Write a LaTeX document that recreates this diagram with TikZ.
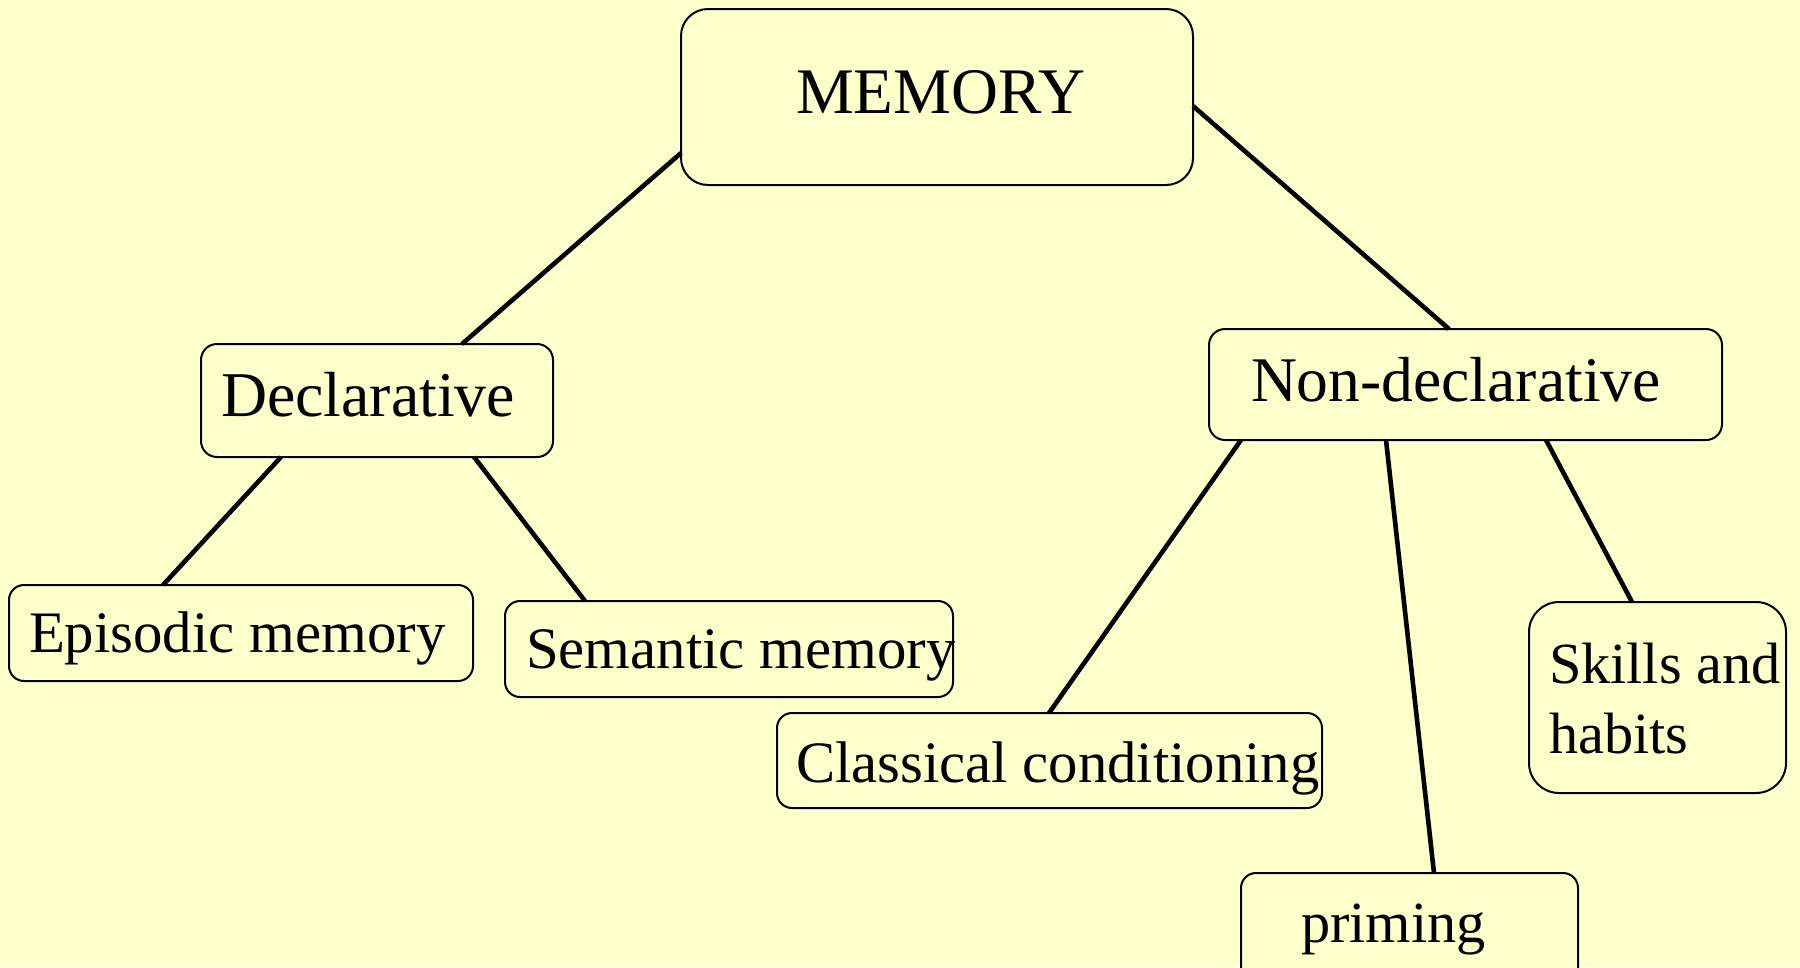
\documentclass[tikz,border=0pt]{standalone}
\usepackage{fontspec}
\setmainfont{Liberation Serif}
\definecolor{paper}{HTML}{FFFFCC}
\tikzset{
  box/.style={draw=black, fill=paper, line width=2pt, rounded corners=#1,
              inner sep=0pt, outer sep=0pt},
  box/.default=16pt,
  label text/.style={inner sep=0pt, outer sep=0pt, anchor=base west, text=black},
  link/.style={draw=black, line width=4.6pt}
}
\newcommand{\fs}[1]{\fontsize{#1}{1.2\dimexpr#1pt\relax}\selectfont}
\begin{document}
\begin{tikzpicture}[x=1pt, y=-1pt]
  % page
  \fill[paper] (0,0) rectangle (1800,967);
  \useasboundingbox (0,0) rectangle (1800,967);

  % boxes
  \node[box=27pt, minimum width=512pt, minimum height=176pt] (mem) at (937,97) {};
  \node[box, minimum width=352pt, minimum height=113pt] (dec) at (377,400.5) {};
  \node[box, minimum width=513pt, minimum height=111pt] (non) at (1465.5,384.5) {};
  \node[box=15pt, minimum width=464pt, minimum height=96pt] (epi) at (241,633) {};
  \node[box=15pt, minimum width=448pt, minimum height=96pt] (sem) at (729,649) {};
  \node[box=15pt, minimum width=545pt, minimum height=95pt] (cla) at (1049.5,760.5) {};
  \node[box=30pt, minimum width=257pt, minimum height=191pt] (ski) at (1657.5,697.5) {};
  \node[box=15pt, minimum width=337pt, minimum height=112pt] (pri) at (1409.5,929) {};

  % tree edges
  \draw[link] ([yshift=-56pt]mem.west) -- ([xshift=85pt]dec.north);
  \draw[link] ([yshift=-9pt]mem.east) -- ([xshift=-16.5pt]non.north);
  \draw[link] ([xshift=-96pt]dec.south) -- ([xshift=-78pt]epi.north);
  \draw[link] ([xshift=97pt]dec.south) -- ([xshift=-144pt]sem.north);
  \draw[link] ([xshift=-224.5pt]non.south) -- ([xshift=-0.5pt]cla.north);
  \draw[link] ([xshift=-79.5pt]non.south) -- ([xshift=24.5pt]pri.north);
  \draw[link] ([xshift=80.5pt]non.south) -- ([xshift=-25.5pt]ski.north);

  % labels
  \node[label text, font=\fs{65}] (memT) at (796,113) {MEMORY};
  \node[label text, font=\fs{63.8}] (decT) at (221,416) {Declarative};
  \node[label text, font=\fs{63.6}] (nonT) at (1251,401) {Non-declarative};
  \node[label text, font=\fs{58.8}] (epiT) at (29,652) {Episodic memory};
  \node[label text, font=\fs{58.8}] (semT) at (526,668) {Semantic memory};
  \node[label text, font=\fs{58.7}] (claT) at (796,782) {Classical conditioning};
  \node[label text, font=\fs{58.3}] (skiT1) at (1549,683) {Skills and};
  \node[label text, font=\fs{58.3}] (skiT2) at (1549,753) {habits};
  \node[label text, font=\fs{58.3}] (priT) at (1301,942) {priming};
\end{tikzpicture}
\end{document}
